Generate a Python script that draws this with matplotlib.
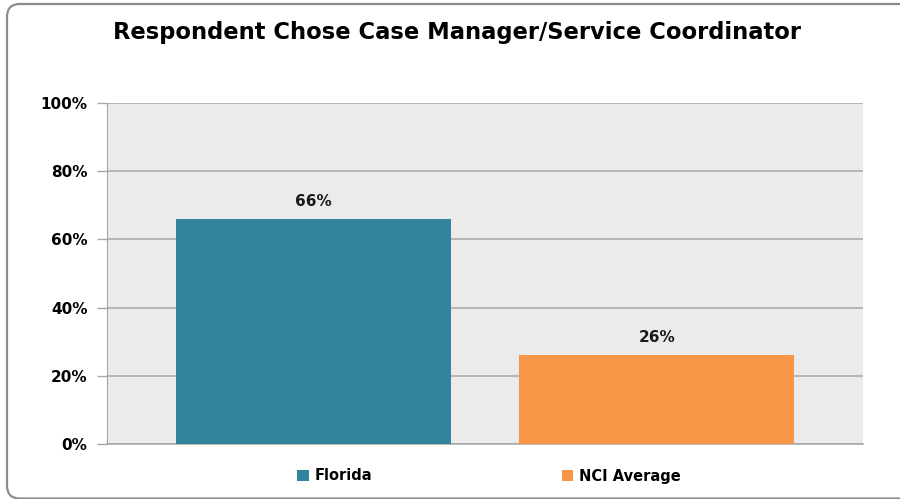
import matplotlib.pyplot as plt
from matplotlib.patches import FancyBboxPatch
from matplotlib.ticker import PercentFormatter

categories = ["Florida", "NCI Average"]
values = [66, 26]
colors = ["#31849B", "#F79646"]
yticks = [0, 20, 40, 60, 80, 100]

plt.rcParams["font.family"] = ["DejaVu Sans"]
plt.rcParams["font.weight"] = "bold"

fig = plt.figure(figsize=(9, 4.99), dpi=100)
W, H = 900, 499

# rounded outer frame, drawn in inches so the corners stay circular
frame = FancyBboxPatch(
    (0.07, 0.005), 9.08, 4.945,
    boxstyle="round,pad=0,rounding_size=0.13",
    transform=fig.dpi_scale_trans, facecolor="none",
    edgecolor="#8C8C8C", linewidth=1.6, clip_on=False,
)
fig.patches.append(frame)

ax = fig.add_axes([107 / W, 55 / H, 756 / W, 341 / H])
ax.set_facecolor("#EBEBEB")

xs = range(len(categories))
bars = ax.bar(xs, values, width=0.8, color=colors, label=categories, zorder=3)
for x, v in zip(xs, values):
    ax.text(x, v + 3.0, f"{v}%", ha="center", va="bottom",
            fontsize=11, fontweight="bold", color="#1a1a1a")

ax.set_xlim(-0.6, 1.6)
ax.set_ylim(0, 100)
ax.set_yticks(yticks)
ax.yaxis.set_major_formatter(PercentFormatter(decimals=0))
ax.set_xticks([])
ax.grid(axis="y", color="#A6A6A6", linewidth=1.1, zorder=1)
ax.tick_params(axis="y", length=7, width=1, color="#A6A6A6", pad=7,
               labelsize=11)
for lab in ax.get_yticklabels():
    lab.set_fontweight("bold")
for side in ["top", "right"]:
    ax.spines[side].set_visible(False)
ax.spines["left"].set_color("#A6A6A6")
ax.spines["bottom"].set_color("#A6A6A6")
ax.spines["bottom"].set_linewidth(1.1)

fig.text(457 / W, 1 - 33 / H, "Respondent Chose Case Manager/Service Coordinator",
         ha="center", va="center", fontsize=16.3, fontweight="bold")

fig.legend(bars, categories, loc="center", bbox_to_anchor=(489 / W, 1 - 476 / H),
           ncol=2, frameon=False, handlelength=0.8, handleheight=0.8,
           handletextpad=0.4, columnspacing=13.0,
           prop={"weight": "bold", "size": 10.5})

fig.savefig("out.png", dpi=100)
